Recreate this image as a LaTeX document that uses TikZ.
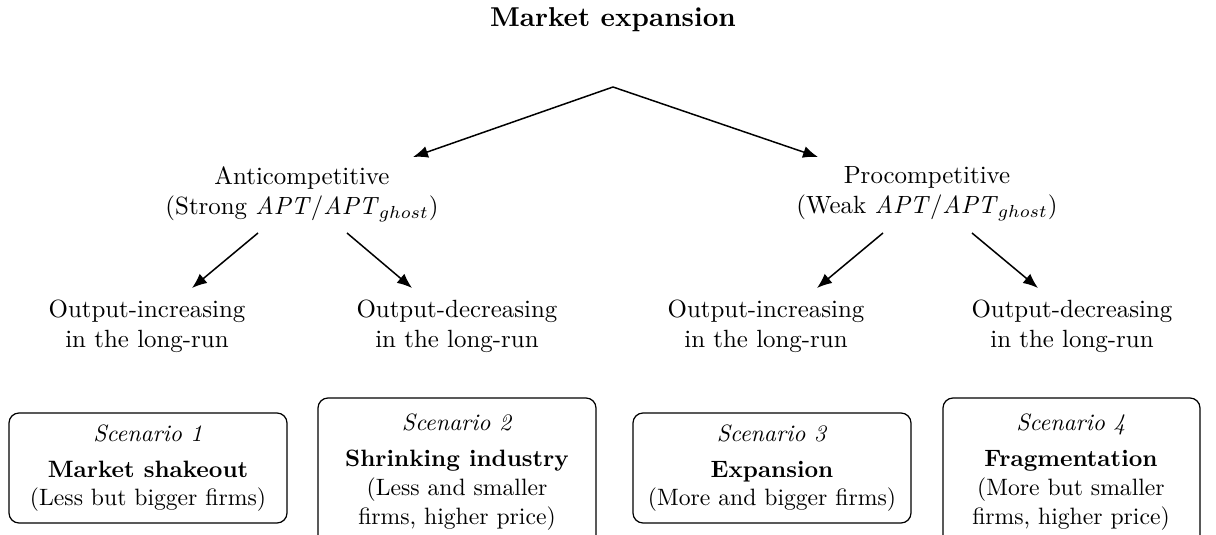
\documentclass[tikz,border=0pt]{standalone}
\usetikzlibrary{arrows.meta}
\begin{document}
\begin{tikzpicture}[x=0.4016pt,y=-0.4016pt,
  every node/.style={align=center, inner sep=0pt},
  arr/.style={-{Latex[length=6pt,width=4.8pt]}, line width=0.6pt},
  scen/.style={draw, line width=0.5pt, rounded corners=4pt, inner sep=0pt},
  scentext/.style={font=\fontsize{9.5}{11.5}\selectfont}]
\useasboundingbox (0,0) rectangle (1216,535);
\begin{scope}
\clip (0,0) rectangle (1216,535);
\node[font=\fontsize{10.95}{13.6}\selectfont\bfseries] (top) at (613,20) {Market expansion};
\coordinate (apex) at (613,87);
\coordinate (lt) at (413,157);
\coordinate (rt) at (818,157);
\node (anti) at (302,194) {Anticompetitive\\(Strong \textit{APT}/\textit{APT}$_{ghost}$)};
\node (pro) at (927,194) {Procompetitive\\(Weak \textit{APT}/\textit{APT}$_{ghost}$)};
\draw[arr] (apex) -- (lt);
\draw[arr] (apex) -- (rt);
\coordinate (a1s) at (258,233); \coordinate (a1e) at (192,288);
\coordinate (a2s) at (347,233); \coordinate (a2e) at (412,288);
\coordinate (p1s) at (883,233); \coordinate (p1e) at (817,288);
\coordinate (p2s) at (972,233); \coordinate (p2e) at (1038,288);
\draw[arr] (a1s) -- (a1e);
\draw[arr] (a2s) -- (a2e);
\draw[arr] (p1s) -- (p1e);
\draw[arr] (p2s) -- (p2e);
\node (o1) at (147,326) {Output-increasing\\in the long-run};
\node (o2) at (457,326) {Output-decreasing\\in the long-run};
\node (o3) at (766,326) {Output-increasing\\in the long-run};
\node (o4) at (1072,326) {Output-decreasing\\in the long-run};
\draw[scen] (9,413) rectangle (287,523);
\draw[scen] (318,398) rectangle (596,545);
\draw[scen] (633,413) rectangle (911,523);
\draw[scen] (943,398) rectangle (1200,545);
\node[scentext] (s1) at (148,468) {\textit{Scenario 1}\\[3pt]\textbf{Market shakeout}\\(Less but bigger firms)};
\node[scentext] (s2) at (457,472) {\textit{Scenario 2}\\[3pt]\textbf{Shrinking industry}\\(Less and smaller\\firms, higher price)};
\node[scentext] (s3) at (772,468) {\textit{Scenario 3}\\[3pt]\textbf{Expansion}\\(More and bigger firms)};
\node[scentext] (s4) at (1071,472) {\textit{Scenario 4}\\[3pt]\textbf{Fragmentation}\\(More but smaller\\firms, higher price)};
\end{scope}
\end{tikzpicture}
\end{document}
